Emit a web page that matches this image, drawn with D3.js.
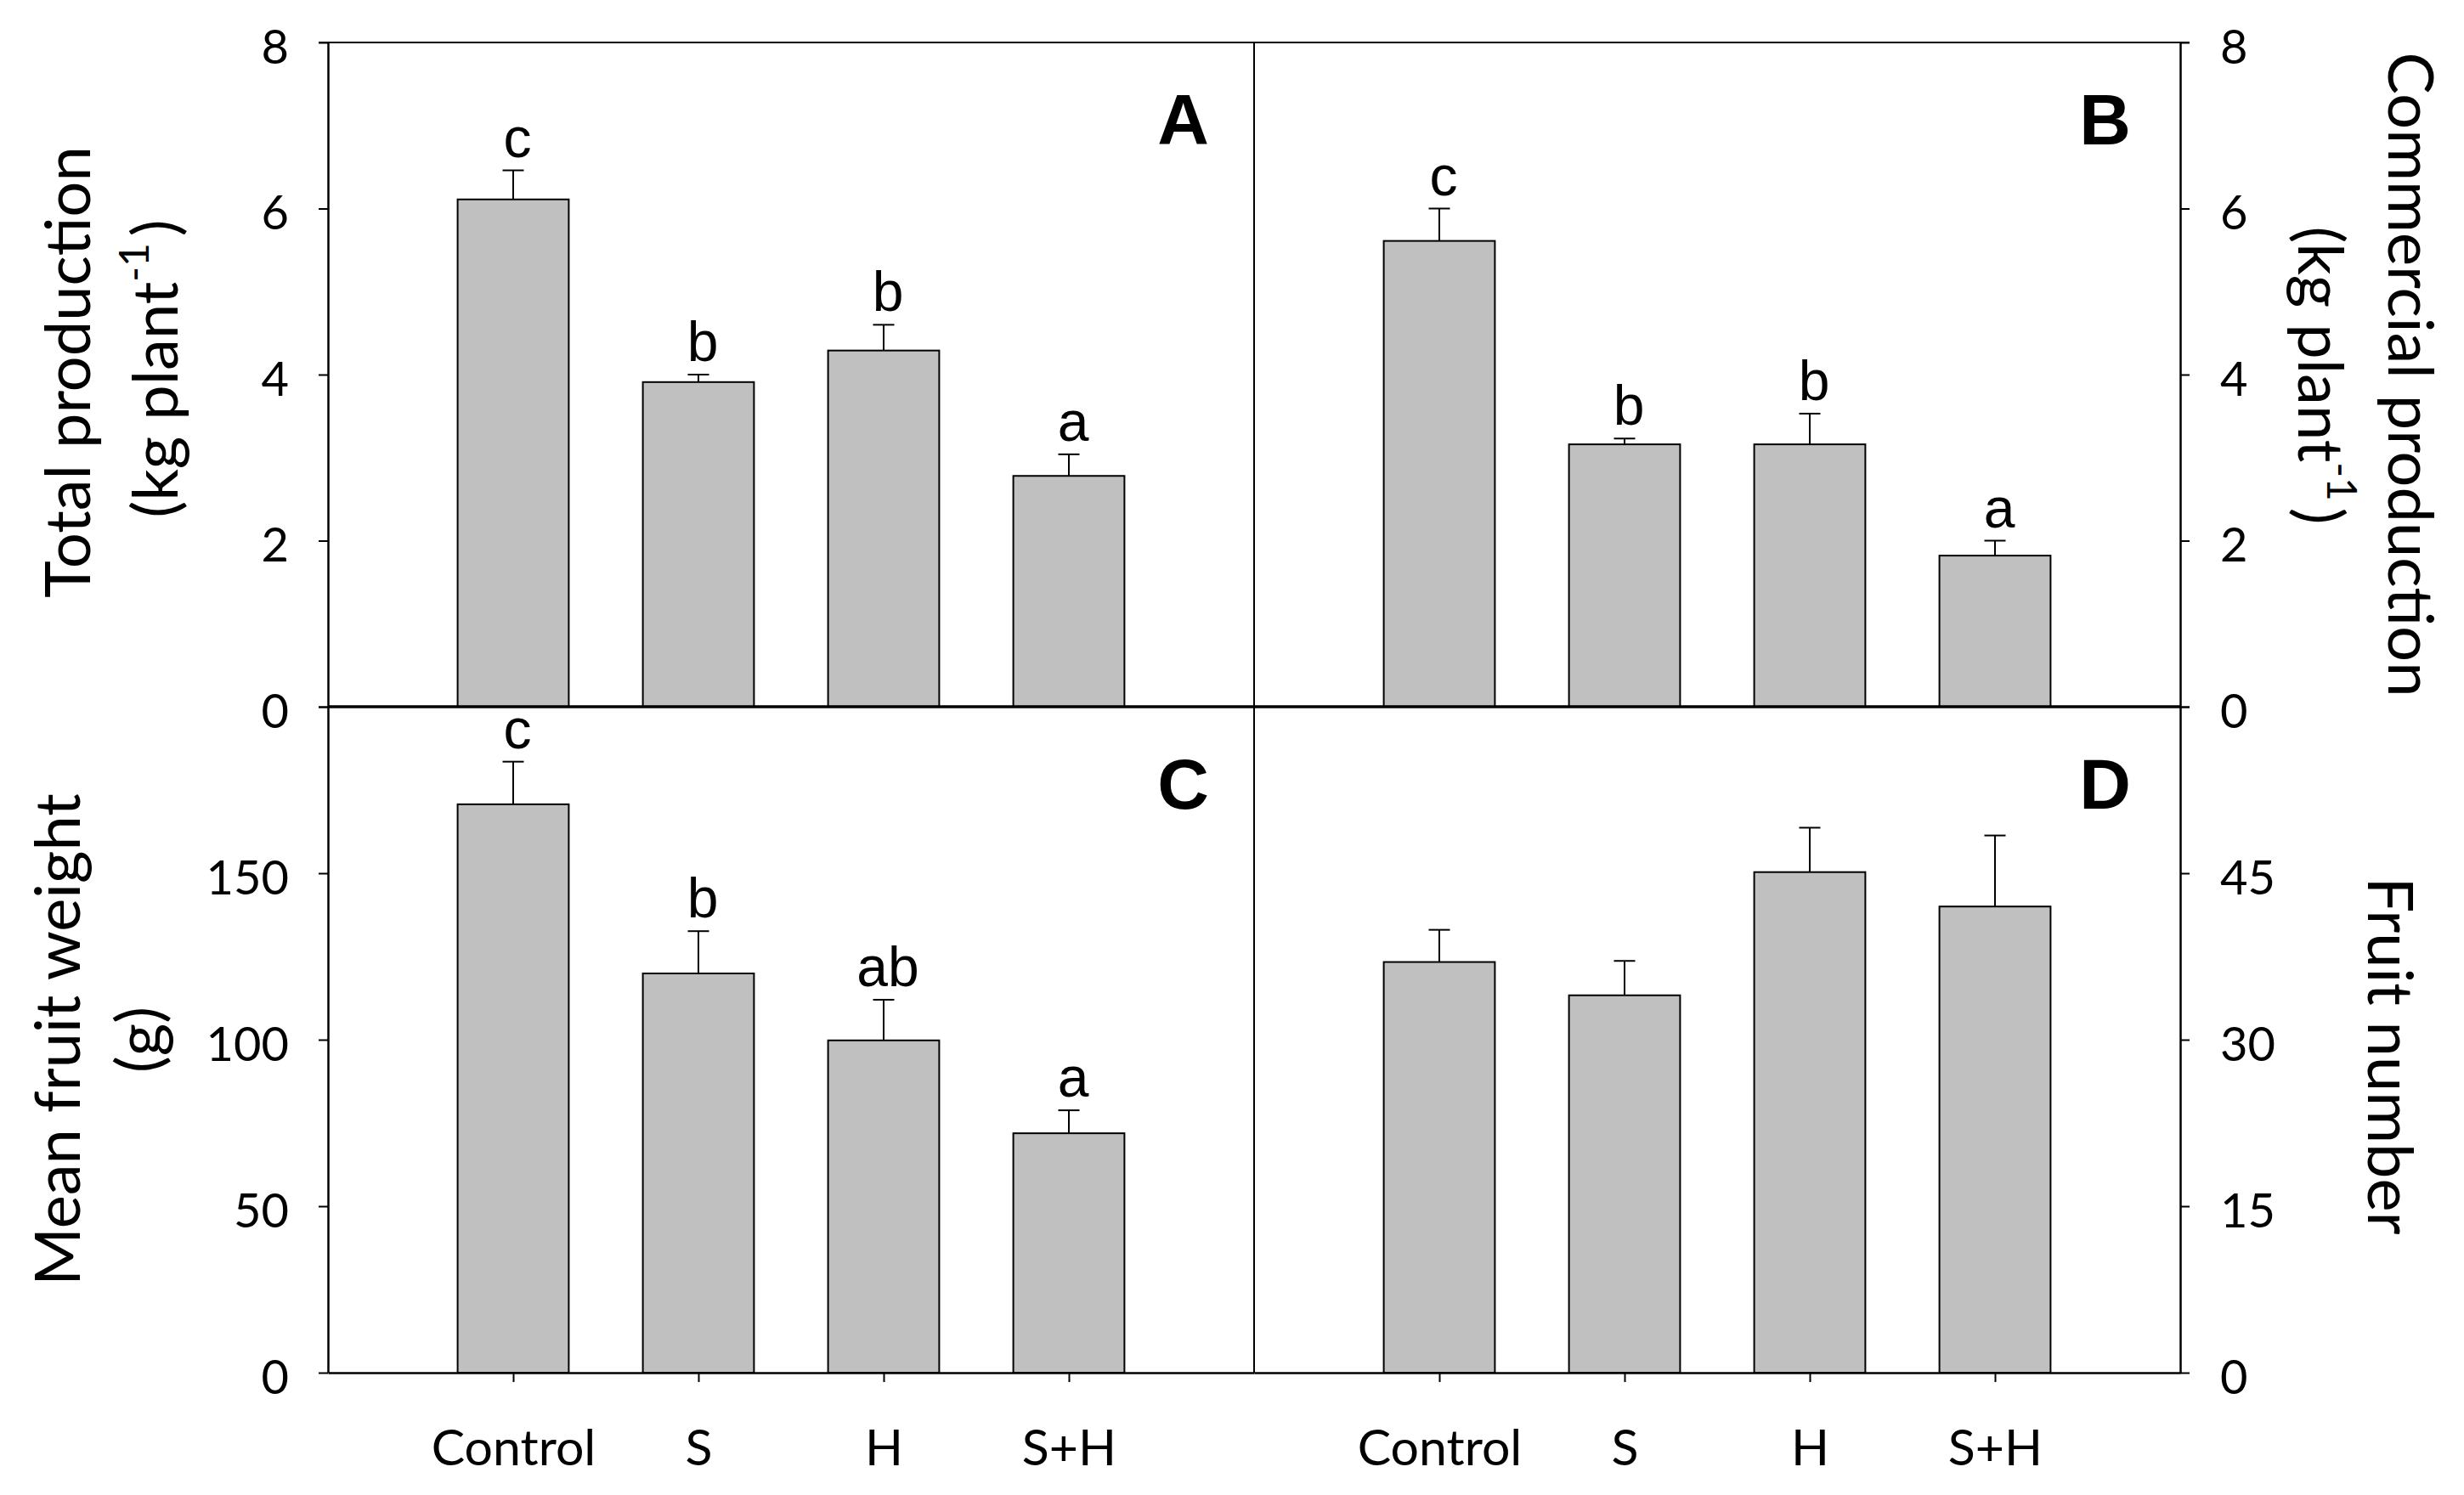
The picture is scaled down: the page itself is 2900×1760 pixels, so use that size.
<!DOCTYPE html>
<html>
<head>
<meta charset="utf-8">
<script src="https://cdn.jsdelivr.net/npm/d3@7"></script>
<style>
  body { margin: 0; background: #fff; }
  svg { display: block; }
</style>
</head>
<body>
<svg id="chart" width="2900" height="1760"></svg>
<script>
// treatments on the x axis
var treatments = ["Control", "S", "H", "S+H"];

// A: total production (kg plant-1)
var totalMean = [6.11, 3.91, 4.29, 2.78];
var totalErr = [0.35, 0.09, 0.31, 0.26];
var totalLetters = ["c", "b", "b", "a"];

// B: commercial production (kg plant-1)
var commercialMean = [5.61, 3.16, 3.16, 1.82];
var commercialErr = [0.39, 0.07, 0.37, 0.18];
var commercialLetters = ["c", "b", "b", "a"];

// C: mean fruit weight (g)
var weightMean = [170.7, 119.9, 99.8, 71.9];
var weightErr = [12.8, 12.7, 12.2, 6.9];
var weightLetters = ["c", "b", "ab", "a"];

// D: fruit number
var numberMean = [37.0, 34.0, 45.1, 42.0];
var numberErr = [2.9, 3.1, 4.0, 6.4];
var numberLetters = ["", "", "", ""];

// tick labels
var ticksTop = [0, 2, 4, 6, 8];
var ticksWeight = [0, 50, 100, 150, 200];
var ticksNumber = [0, 15, 30, 45, 60];

var svg = d3.select('#chart');

var x0 = 386, xMid = 1476, x1 = 2566;
var yTop = 50, yMid = 832, yBot = 1616;

var calibri = "Lato, 'Open Sans', sans-serif";
var arial = "'Liberation Sans', Arial, sans-serif";

var xLeft = d3.scaleLinear().domain([0, 5]).range([x0, xMid]);
var xRight = d3.scaleLinear().domain([0, 5]).range([xMid, x1]);
var yTopScale = d3.scaleLinear().domain([0, 8]).range([yMid, yTop]);
var yWeight = d3.scaleLinear().domain([0, 200]).range([yBot, yMid]);
var yNumber = d3.scaleLinear().domain([0, 60]).range([yBot, yMid]);

function drawBars(x, y, means, errs, letters) {
    var unit = x(1) - x(0);
    var bw = unit * 0.6;
    var rows = means.map(function (m, i) {
        return { i: i + 1, m: m, e: errs[i], l: letters[i] };
    });
    var g = svg.append('g');

    g.selectAll('rect')
        .data(rows)
        .enter()
        .append('rect')
        .attr('x', function (d) { return x(d.i) - bw / 2; })
        .attr('y', function (d) { return y(d.m); })
        .attr('width', bw)
        .attr('height', function (d) { return y(0) - y(d.m); })
        .style('fill', '#c0c0c0')
        .style('stroke', '#000')
        .style('stroke-width', 2);

    // error bars (upper only)
    g.selectAll('line.err')
        .data(rows)
        .enter()
        .append('line')
        .attr('class', 'err')
        .attr('x1', function (d) { return x(d.i); })
        .attr('x2', function (d) { return x(d.i); })
        .attr('y1', function (d) { return y(d.m); })
        .attr('y2', function (d) { return y(d.m + d.e); })
        .style('stroke', '#000')
        .style('stroke-width', 2);

    g.selectAll('line.cap')
        .data(rows)
        .enter()
        .append('line')
        .attr('class', 'cap')
        .attr('x1', function (d) { return x(d.i) - 12.5; })
        .attr('x2', function (d) { return x(d.i) + 12.5; })
        .attr('y1', function (d) { return y(d.m + d.e); })
        .attr('y2', function (d) { return y(d.m + d.e); })
        .style('stroke', '#000')
        .style('stroke-width', 2);

    g.selectAll('text')
        .data(rows)
        .enter()
        .append('text')
        .attr('x', function (d) { return x(d.i) + 5; })
        .attr('y', function (d) { return y(d.m + d.e) - 16; })
        .attr('text-anchor', 'middle')
        .style('font-family', arial)
        .style('font-size', '66px')
        .text(function (d) { return d.l; });
}

drawBars(xLeft, yTopScale, totalMean, totalErr, totalLetters);
drawBars(xRight, yTopScale, commercialMean, commercialErr, commercialLetters);
drawBars(xLeft, yWeight, weightMean, weightErr, weightLetters);
drawBars(xRight, yNumber, numberMean, numberErr, numberLetters);

// y axes
function styleAxis(g, anchorX) {
    g.selectAll('path.domain').style('stroke', '#000').style('stroke-width', 2.5);
    g.selectAll('.tick line').style('stroke', '#000').style('stroke-width', 2);
    g.selectAll('.tick text')
        .style('font-family', calibri)
        .style('font-size', '56px')
        .style('fill', '#000')
        .attr('dy', '0.43em');
}

var axA = svg.append('g').attr('transform', 'translate(' + x0 + ',0)')
    .call(d3.axisLeft(yTopScale).tickValues(ticksTop).tickSize(11).tickSizeOuter(0).tickPadding(35));
styleAxis(axA);
var axC = svg.append('g').attr('transform', 'translate(' + x0 + ',0)')
    .call(d3.axisLeft(yWeight).tickValues(ticksWeight).tickSize(11).tickSizeOuter(0).tickPadding(35)
        .tickFormat(function (d) { return d === 200 ? '' : d; }));
styleAxis(axC);
var axB = svg.append('g').attr('transform', 'translate(' + x1 + ',0)')
    .call(d3.axisRight(yTopScale).tickValues(ticksTop).tickSize(11).tickSizeOuter(0).tickPadding(36));
styleAxis(axB);
var axD = svg.append('g').attr('transform', 'translate(' + x1 + ',0)')
    .call(d3.axisRight(yNumber).tickValues(ticksNumber).tickSize(11).tickSizeOuter(0).tickPadding(36)
        .tickFormat(function (d) { return d === 60 ? '' : d; }));
styleAxis(axD);

// x axes (bottom panels only carry labels)
[xLeft, xRight].forEach(function (x) {
    var ax = svg.append('g').attr('transform', 'translate(0,' + yBot + ')')
        .call(d3.axisBottom(x).tickValues([1, 2, 3, 4]).tickSize(11).tickSizeOuter(0)
            .tickFormat(function (d) { return treatments[d - 1]; }));
    ax.selectAll('path.domain').style('stroke', '#000').style('stroke-width', 2.5);
    ax.selectAll('.tick line').style('stroke', '#000').style('stroke-width', 2);
    ax.selectAll('.tick text')
        .attr('y', 109)
        .attr('dy', 0)
        .style('font-family', calibri)
        .style('font-size', '59px')
        .style('fill', '#000');
});

// frame lines
svg.append('line').attr('x1', x0 - 11).attr('x2', x1 + 11).attr('y1', yTop).attr('y2', yTop)
    .style('stroke', '#000').style('stroke-width', 2);
svg.append('line').attr('x1', x0).attr('x2', x1).attr('y1', yMid).attr('y2', yMid)
    .style('stroke', '#000').style('stroke-width', 3.5);
svg.append('line').attr('x1', xMid).attr('x2', xMid).attr('y1', yTop).attr('y2', yBot)
    .style('stroke', '#000').style('stroke-width', 2);

// panel letters
var panels = [
    { t: 'A', x: xMid - 53, y: yTop + 120 },
    { t: 'B', x: x1 - 58, y: yTop + 120 },
    { t: 'C', x: xMid - 53, y: yMid + 120 },
    { t: 'D', x: x1 - 58, y: yMid + 120 }
];
svg.selectAll('text.panel')
    .data(panels)
    .enter()
    .append('text')
    .attr('class', 'panel')
    .attr('x', function (d) { return d.x; })
    .attr('y', function (d) { return d.y; })
    .attr('text-anchor', 'end')
    .style('font-family', arial)
    .style('font-weight', 'bold')
    .style('font-size', '84px')
    .text(function (d) { return d.t; });

// axis titles
function title(tx, ty, rot, txt) {
    return svg.append('text')
        .attr('transform', 'translate(' + tx + ',' + ty + ') rotate(' + rot + ')')
        .attr('text-anchor', 'middle')
        .style('font-family', calibri)
        .style('font-size', '74px')
        .text(txt);
}
function unitTitle(tx, ty, rot) {
    var t = svg.append('text')
        .attr('transform', 'translate(' + tx + ',' + ty + ') rotate(' + rot + ')')
        .attr('text-anchor', 'middle')
        .style('font-family', calibri)
        .style('font-size', '74px');
    t.append('tspan').text('(kg plant');
    t.append('tspan').attr('dy', -34).style('font-size', '48px').text('-1');
    t.append('tspan').attr('dy', 34).attr('dx', 8).text(')');
}

title(106, 438, -90, 'Total production');
unitTitle(209, 434, -90);
title(94, 1224, -90, 'Mean fruit weight');
title(190, 1224, -90, '(g)');
title(2811, 441, 90, 'Commercial production');
unitTitle(2705, 442, 90);
title(2787, 1243, 90, 'Fruit number');
</script>
</body>
</html>
